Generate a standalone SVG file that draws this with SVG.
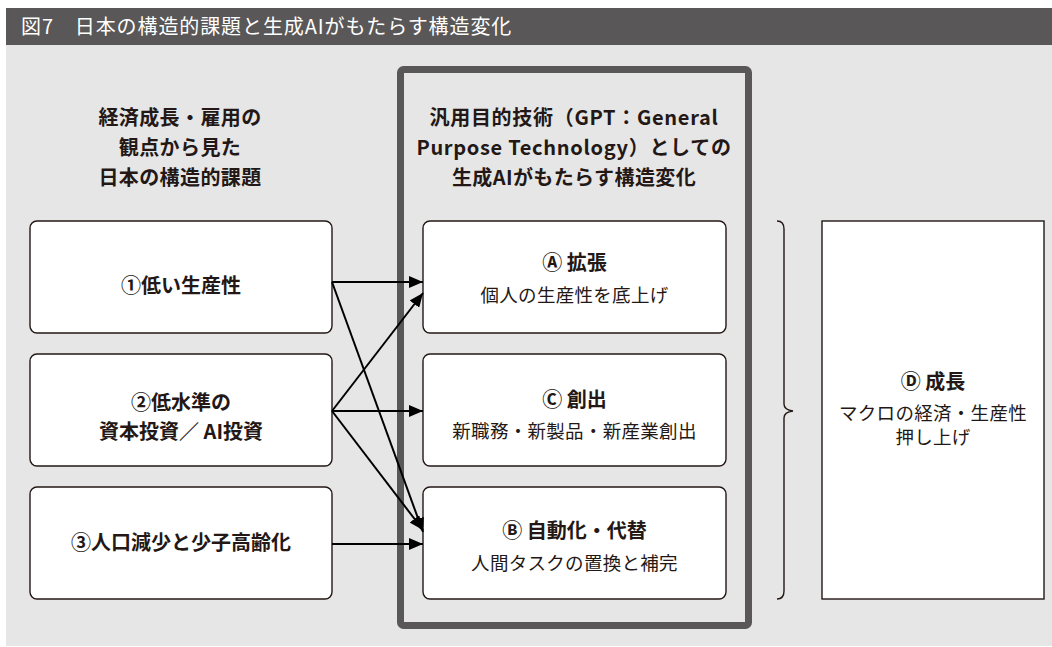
<svg xmlns="http://www.w3.org/2000/svg" width="1052" height="647" viewBox="0 0 1052 647">
<style>
text{font-family:"Noto Sans CJK JP","Noto Sans",sans-serif;fill:#231815;text-anchor:middle}
.b{font-weight:bold;font-size:20px}
.r{font-size:18.5px;letter-spacing:0.3px}
.h{font-weight:bold;font-size:20px;letter-spacing:0.4px}
.box{fill:#fff;stroke:#231815;stroke-width:1.4}
.c{stroke:#000;stroke-width:2;fill:none}
</style>
<defs>
<marker id="ah" viewBox="0 0 14 12" refX="14" refY="6" markerWidth="14" markerHeight="12" markerUnits="userSpaceOnUse" orient="auto">
<path d="M0,0L14,6L0,12Z" fill="#000"/>
</marker>
</defs>
<rect x="0" y="0" width="1052" height="647" fill="#fff"/>
<rect x="6" y="45" width="1046" height="601" fill="#e6e6e6"/>
<g id="title">
<rect x="6" y="8" width="1046" height="37" fill="#595757"/>
<text x="21" y="34" style="fill:#fff;font-size:20px;text-anchor:start;letter-spacing:0.9px">図7　日本の構造的課題と生成AIがもたらす構造変化</text>
</g>
<g id="frame">
<rect x="400.5" y="69.5" width="348" height="556" rx="3" fill="none" stroke="#595757" stroke-width="7"/>
</g>
<g id="hdr-left">
<text class="h" x="180" y="125">経済成長・雇用の</text>
<text class="h" x="180" y="155">観点から見た</text>
<text class="h" x="180" y="185">日本の構造的課題</text>
</g>
<g id="hdr-mid">
<text class="h" x="574" y="125" style="letter-spacing:0.7px">汎用目的技術（GPT：General</text>
<text class="h" x="574" y="155" style="letter-spacing:0.7px">Purpose Technology）としての</text>
<text class="h" x="574" y="185">生成AIがもたらす構造変化</text>
</g>
<g id="n1">
<rect class="box" x="30" y="221" width="302" height="112" rx="7"/>
<text class="b" x="181" y="293">①低い生産性</text>
</g>
<g id="n2">
<rect class="box" x="30" y="354" width="302" height="112" rx="7"/>
<text class="b" x="181" y="410">②低水準の</text>
<text class="b" x="181" y="439">資本投資／ AI投資</text>
</g>
<g id="n3">
<rect class="box" x="30" y="487" width="302" height="112" rx="7"/>
<text class="b" x="181" y="550">③人口減少と少子高齢化</text>
</g>
<g id="nA">
<rect class="box" x="423" y="221" width="303" height="112" rx="7"/>
<text class="b" x="574.5" y="270">Ⓐ 拡張</text>
<text class="r" x="574.5" y="302">個人の生産性を底上げ</text>
</g>
<g id="nC">
<rect class="box" x="423" y="354" width="303" height="112" rx="7"/>
<text class="b" x="574.5" y="407">Ⓒ 創出</text>
<text class="r" x="574.5" y="438">新職務・新製品・新産業創出</text>
</g>
<g id="nB">
<rect class="box" x="423" y="487" width="303" height="112" rx="7"/>
<text class="b" x="574.5" y="538">Ⓑ 自動化・代替</text>
<text class="r" x="574.5" y="570">人間タスクの置換と補完</text>
</g>
<g id="nD">
<rect x="822" y="221" width="222" height="378" fill="#fff" stroke="#231815" stroke-width="1.4"/>
<text class="b" x="933" y="389">Ⓓ 成長</text>
<text class="r" x="933" y="420">マクロの経済・生産性</text>
<text class="r" x="933" y="444">押し上げ</text>
</g>
<g id="brace">
<path d="M777,221 Q784,221 784,229 L784,404 Q784,410 793,411 Q784,412 784,418 L784,591 Q784,599 777,599" fill="none" stroke="#231815" stroke-width="1.4"/>
</g>
<g id="connectors">
<line class="c" x1="332" y1="282" x2="423" y2="282" marker-end="url(#ah)"/>
<line class="c" x1="332" y1="282" x2="423" y2="532" marker-end="url(#ah)"/>
<line class="c" x1="332" y1="411" x2="423" y2="293" marker-end="url(#ah)"/>
<line class="c" x1="332" y1="411" x2="423" y2="411" marker-end="url(#ah)"/>
<line class="c" x1="332" y1="411" x2="423" y2="530" marker-end="url(#ah)"/>
<line class="c" x1="332" y1="544" x2="423" y2="544" marker-end="url(#ah)"/>
</g>
</svg>
